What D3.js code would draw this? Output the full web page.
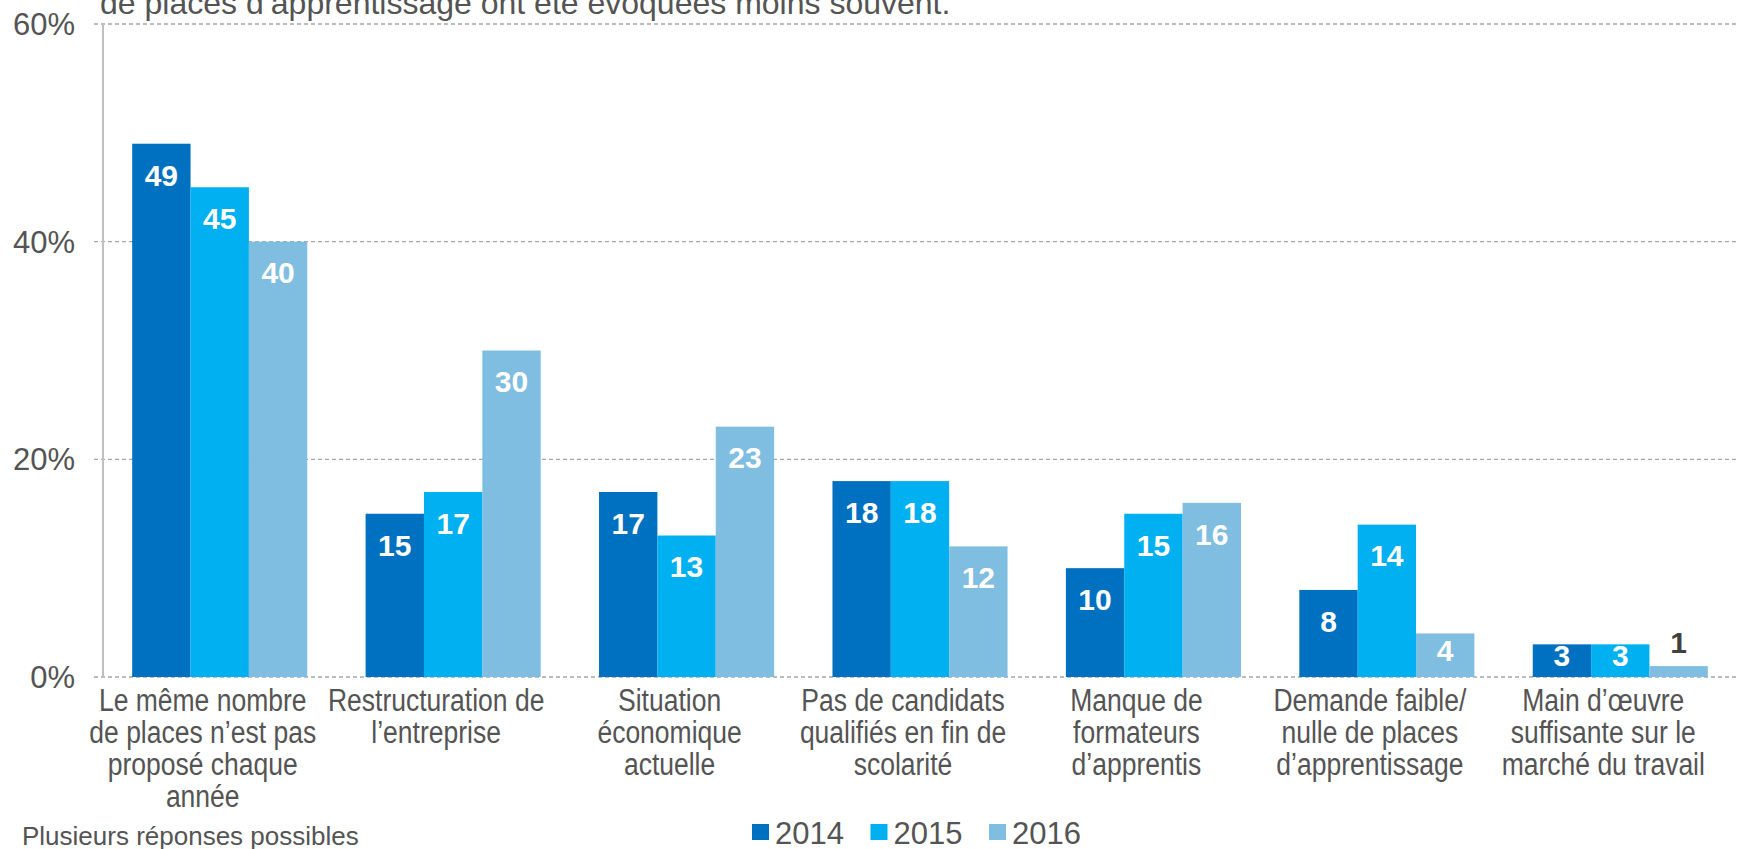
<!DOCTYPE html>
<html>
<head>
<meta charset="utf-8">
<script src="https://cdn.jsdelivr.net/npm/d3@7"></script>
<style>
  body { margin: 0; background: #fff; }
  text { font-family: "Liberation Sans", Arial, sans-serif; }
</style>
</head>
<body>
<script>
// Chart data
var categories = [
    ["Le même nombre", "de places n’est pas", "proposé chaque", "année"],
    ["Restructuration de", "l’entreprise"],
    ["Situation", "économique", "actuelle"],
    ["Pas de candidats", "qualifiés en fin de", "scolarité"],
    ["Manque de", "formateurs", "d’apprentis"],
    ["Demande faible/", "nulle de places", "d’apprentissage"],
    ["Main d’œuvre", "suffisante sur le", "marché du travail"]
];
var years = ["2014", "2015", "2016"];
var values2014 = [49, 15, 17, 18, 10, 8, 3];
var values2015 = [45, 17, 13, 18, 15, 14, 3];
var values2016 = [40, 30, 23, 12, 16, 4, 1];
var yTicks = [0, 20, 40, 60];
var colors = ["#0070c0", "#00b0f0", "#7fbde1"];
var titleText = "de places d’apprentissage ont été évoquées moins souvent.";
var noteText = "Plusieurs réponses possibles";

var series = [values2014, values2015, values2016];
var width = 1737, height = 849;
var textColor = "#545454";

var svg = d3.select("body")
    .append("svg")
    .attr("width", width).attr("height", height);

// Scales
var x0 = d3.scaleBand()
    .domain(d3.range(categories.length))
    .range([103, 1737]);

var x1 = d3.scaleBand()
    .domain(years)
    .range([0, x0.bandwidth()])
    .paddingOuter(0.5);

var y = d3.scaleLinear()
    .domain([0, 60])
    .range([677, 24]);

// Title (top line cut off in the original)
svg.append("text")
    .attr("x", 100).attr("y", 14)
    .attr("font-size", 32)
    .attr("fill", textColor)
    .text(titleText);

// Gridlines
svg.append("g")
    .selectAll("line")
    .data(yTicks)
    .enter()
    .append("line")
    .attr("x1", 94).attr("x2", width)
    .attr("y1", function (d) { return y(d); })
    .attr("y2", function (d) { return y(d); })
    .attr("stroke", "#a6a6a6")
    .attr("stroke-width", 1.4)
    .attr("stroke-dasharray", "4,3");

// Y axis line
svg.append("line")
    .attr("x1", 103).attr("x2", 103)
    .attr("y1", y(60)).attr("y2", y(0))
    .attr("stroke", "#bfbfbf")
    .attr("stroke-width", 2);

// Y tick labels
svg.append("g")
    .selectAll("text")
    .data(yTicks)
    .enter()
    .append("text")
    .attr("x", 75)
    .attr("y", function (d) { return y(d); })
    .attr("dy", "0.36em")
    .attr("text-anchor", "end")
    .attr("font-size", 31)
    .attr("fill", textColor)
    .text(function (d) { return d + "%"; });

// Bars
var groups = svg.append("g")
    .selectAll("g")
    .data(categories)
    .enter()
    .append("g")
    .attr("transform", function (d, i) { return "translate(" + x0(i) + ",0)"; });

groups.selectAll("rect")
    .data(function (d, i) {
        return years.map(function (yr, k) { return { year: yr, k: k, v: series[k][i] }; });
    })
    .enter()
    .append("rect")
    .attr("x", function (d) { return x1(d.year); })
    .attr("width", x1.bandwidth())
    .attr("y", function (d) { return y(d.v); })
    .attr("height", function (d) { return y(0) - y(d.v); })
    .attr("fill", function (d) { return colors[d.k]; });

// Value labels
groups.selectAll("text.val")
    .data(function (d, i) {
        return years.map(function (yr, k) { return { year: yr, k: k, v: series[k][i] }; });
    })
    .enter()
    .append("text")
    .attr("class", "val")
    .attr("x", function (d) { return x1(d.year) + x1.bandwidth() / 2; })
    .attr("y", function (d) {
        var top = y(d.v), h = y(0) - y(d.v);
        if (d.v < 2) return top - 24;
        if (h < 60) return (top + y(0)) / 2 - 5;
        return top + 31;
    })
    .attr("dy", "0.36em")
    .attr("text-anchor", "middle")
    .attr("font-size", 30)
    .attr("font-weight", "bold")
    .attr("fill", function (d) { return d.v < 2 ? "#404040" : "#fff"; })
    .text(function (d) { return d.v; });

// Category labels (glyphs a bit taller than wide in the original)
var stretch = 1.2;
var catLabels = svg.append("g")
    .selectAll("text")
    .data(categories)
    .enter()
    .append("text")
    .attr("transform", function (d, i) {
        return "translate(" + (x0(i) + x0.bandwidth() / 2 - 17) + ",711) scale(1," + stretch + ")";
    })
    .attr("text-anchor", "middle")
    .attr("font-size", 26.5)
    .attr("fill", textColor);

catLabels.selectAll("tspan")
    .data(function (d) { return d; })
    .enter()
    .append("tspan")
    .attr("x", 0)
    .attr("y", function (d, j) { return j * 32 / stretch; })
    .text(function (d) { return d; });

// Note
svg.append("text")
    .attr("x", 22).attr("y", 845)
    .attr("font-size", 26)
    .attr("fill", textColor)
    .text(noteText);

// Legend
var legend = svg.append("g")
    .selectAll("g")
    .data(years)
    .enter()
    .append("g")
    .attr("transform", function (d, i) { return "translate(" + (752 + i * 118.5) + ",0)"; });

legend.append("rect")
    .attr("x", 0).attr("y", 824)
    .attr("width", 17).attr("height", 16)
    .attr("fill", function (d, i) { return colors[i]; });

legend.append("text")
    .attr("x", 23).attr("y", 844)
    .attr("font-size", 31)
    .attr("fill", textColor)
    .text(function (d) { return d; });
</script>
</body>
</html>
